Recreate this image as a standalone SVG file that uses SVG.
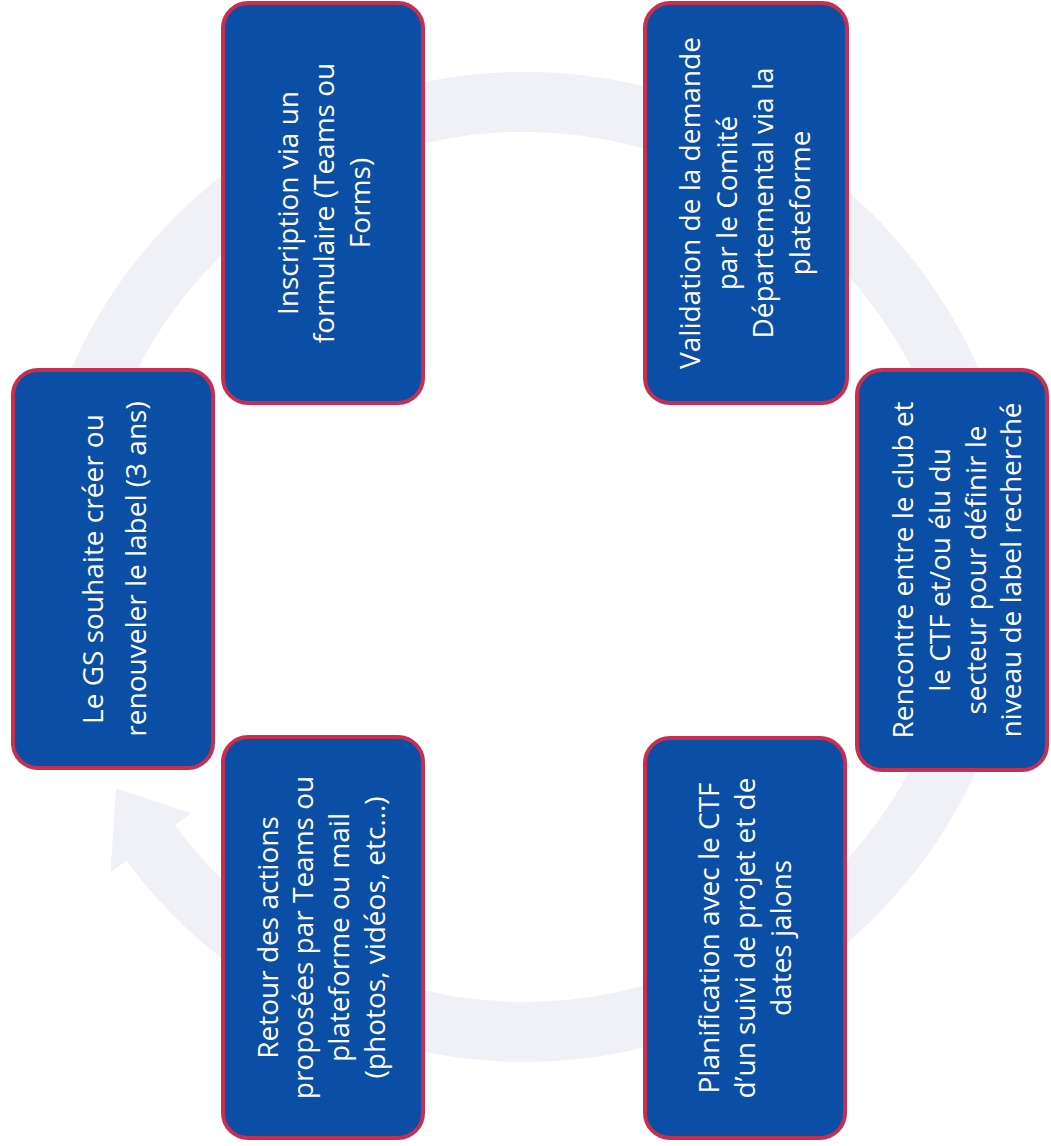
<svg xmlns="http://www.w3.org/2000/svg" width="1051" height="1146" viewBox="0 0 1051 1146">
<style>
.box{fill:#0b4ea6;stroke:#c62f50;stroke-width:4}
.lbl{font-family:"Open Sans","Liberation Sans",sans-serif;font-size:28px;fill:#ffffff;text-anchor:middle}
.ring{fill:none;stroke:#f0f0f7;stroke-width:60}
.head{fill:#f0f0f7}
</style>
<rect width="1051" height="1146" fill="#ffffff"/>
<g id="connectors">
<path class="ring" d="M 88 408 A 465 465 0 1 1 150.7 842.9"/>
<polygon class="head" points="110.5,872.6 116,788.2 191,813.3"/>
</g>
<g id="node1">
<rect class="box" x="13" y="370" width="200" height="398" rx="25"/>
<g transform="translate(113.5 569) rotate(-90)">
<text class="lbl" x="0" y="-11">Le GS souhaite créer ou</text>
<text class="lbl" x="0" y="32">renouveler le label (3 ans)</text>
</g>
</g>
<g id="node2">
<rect class="box" x="223" y="3" width="200" height="400" rx="25"/>
<g transform="translate(323 203) rotate(-90)">
<text class="lbl" x="0" y="-25.5">Inscription via un</text>
<text class="lbl" x="0" y="10.5">formulaire (Teams ou</text>
<text class="lbl" x="0" y="46.5">Forms)</text>
</g>
</g>
<g id="node3">
<rect class="box" x="645" y="3" width="202" height="400" rx="25"/>
<g transform="translate(746.5 203) rotate(-90)">
<text class="lbl" x="0" y="-46.5">Validation de la demande</text>
<text class="lbl" x="0" y="-10">par le Comité</text>
<text class="lbl" x="0" y="26.5">Départemental via la</text>
<text class="lbl" x="0" y="63">plateforme</text>
</g>
</g>
<g id="node4">
<rect class="box" x="857" y="370" width="190" height="400" rx="25"/>
<g transform="translate(952 570) rotate(-90)">
<text class="lbl" x="0" y="-39">Rencontre entre le club et</text>
<text class="lbl" x="0" y="-2.5">le CTF et/ou élu du</text>
<text class="lbl" x="0" y="34">secteur pour définir le</text>
<text class="lbl" x="0" y="69">niveau de label recherché</text>
</g>
</g>
<g id="node5">
<rect class="box" x="645" y="738" width="200" height="400" rx="25"/>
<g transform="translate(745 938) rotate(-90)">
<text class="lbl" x="0" y="-26">Planification avec le CTF</text>
<text class="lbl" x="0" y="10">d’un suivi de projet et de</text>
<text class="lbl" x="0" y="46">dates jalons</text>
</g>
</g>
<g id="node6">
<rect class="box" x="223" y="737" width="200" height="401" rx="25"/>
<g transform="translate(323 937.5) rotate(-90)">
<text class="lbl" x="0" y="-45.5">Retour des actions</text>
<text class="lbl" x="0" y="-10">proposées par Teams ou</text>
<text class="lbl" x="0" y="25.5">plateforme ou mail</text>
<text class="lbl" x="0" y="61.5">(photos, vidéos, etc…)</text>
</g>
</g>
</svg>
